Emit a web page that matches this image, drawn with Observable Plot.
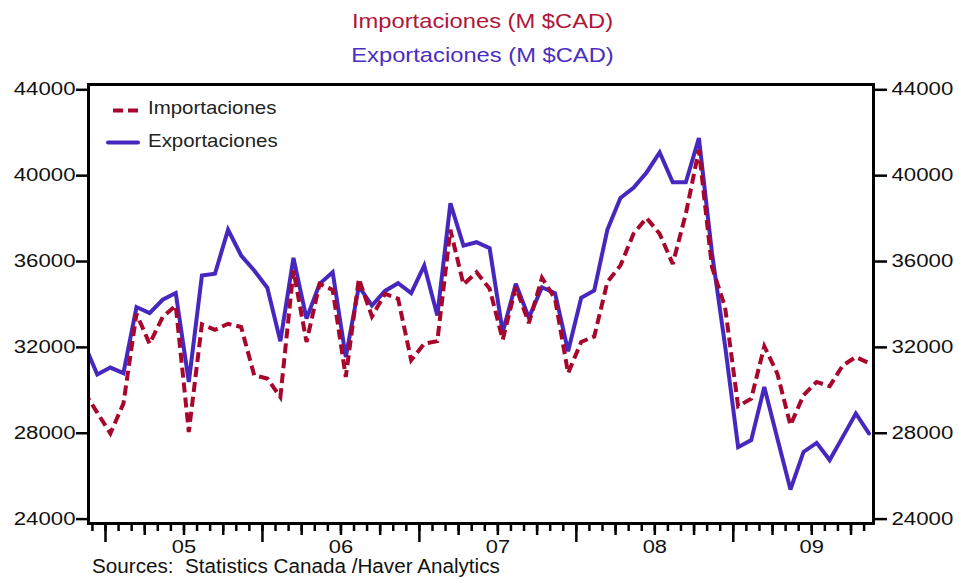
<!DOCTYPE html>
<html>
<head>
<meta charset="utf-8">
<script src="https://cdn.jsdelivr.net/npm/d3@7"></script>
<script src="https://cdn.jsdelivr.net/npm/@observablehq/plot@0.6"></script>
<style>
  html, body { margin: 0; padding: 0; background: #fff; }
  #wrap { position: relative; width: 959px; height: 580px; overflow: hidden;
          font-family: "Liberation Sans", Arial, sans-serif; }
  #wrap svg { position: absolute; left: 0; top: 0; }
  .title { position: absolute; left: 3px; width: 959px; text-align: center;
           font-size: 21px; line-height: 21px; white-space: pre;
           transform: scaleX(1.13); transform-origin: 50% 50%; }
  .legtext { position: absolute; left: 148px; font-size: 18.6px; line-height: 18.6px;
             color: #222; white-space: pre; transform: scaleX(1.1); transform-origin: 0 50%; }
  .caption { position: absolute; left: 92px; top: 557px; font-size: 19.5px; line-height: 19.5px;
             color: #111; white-space: pre; transform: scaleX(1.06); transform-origin: 0 50%; }
</style>
</head>
<body>
<div id="wrap"></div>
<script>
// ---- data (millions CAD, monthly) ----
const months = [
  "2004-11","2004-12",
  "2005-01","2005-02","2005-03","2005-04","2005-05","2005-06","2005-07","2005-08","2005-09","2005-10","2005-11","2005-12",
  "2006-01","2006-02","2006-03","2006-04","2006-05","2006-06","2006-07","2006-08","2006-09","2006-10","2006-11","2006-12",
  "2007-01","2007-02","2007-03","2007-04","2007-05","2007-06","2007-07","2007-08","2007-09","2007-10","2007-11","2007-12",
  "2008-01","2008-02","2008-03","2008-04","2008-05","2008-06","2008-07","2008-08","2008-09","2008-10","2008-11","2008-12",
  "2009-01","2009-02","2009-03","2009-04","2009-05","2009-06","2009-07","2009-08","2009-09","2009-10","2009-11"
];
const importaciones = [
  29930, 28960,
  27990, 29380, 33570, 32170, 33410, 33950, 28060, 33070, 32820, 33100, 32950, 30700,
  30550, 29690, 35580, 32250, 34960, 34680, 30620, 35200, 33440, 34500, 34270, 31400,
  32170, 32290, 37480, 34930, 35500, 34730, 32360, 34800, 33130, 35240, 34270, 30800,
  32250, 32510, 35040, 35810, 37290, 38030, 37290, 35890, 38220, 41200, 35740, 33880,
  29260, 29610, 32050, 30780, 28370, 29770, 30390, 30190, 31160, 31550, 31270
];
const exportaciones = [
  32170, 30740,
  31060, 30800, 33880, 33600, 34220, 34530, 30390, 35350, 35430, 37480, 36280, 35580,
  34780, 32290, 36170, 33340, 34960, 35500, 31550, 34840, 33950, 34630, 34990, 34530,
  35810, 33490, 38710, 36740, 36900, 36620, 32710, 34960, 33380, 34800, 34530, 31820,
  34310, 34650, 37480, 38960, 39430, 40150, 41080, 39690, 39690, 41750, 36400, 32090,
  27350, 27680, 30150, 27750, 25380, 27130, 27550, 26750, 27830, 28920, 27990
];
const yTickValues = [24000, 28000, 32000, 36000, 40000, 44000];
const yearLabels = ["05", "06", "07", "08", "09"];
const seriesNames = ["Importaciones", "Exportaciones"];
const titles = ["Importaciones (M $CAD)", "Exportaciones (M $CAD)"];
const caption = "Sources:  Statistics Canada /Haver Analytics";

// ---- styles ----
const RED = "#a8062c";
const BLUE = "#4628be";
const FONT = "Liberation Sans, Arial, sans-serif";

// month index relative to Jan 2005 (0 = start of Jan 2005)
const monthIndex = s => { const [y, m] = s.split("-").map(Number); return (y - 2005) * 12 + (m - 1); };
const rows = months.map((m, i) => ({t: monthIndex(m) + 0.37, imp: importaciones[i], exp: exportaciones[i]}));

const monthTicks = d3.range(-1, 59);
const mod12 = t => ((t % 12) + 12) % 12;
const quarterTicks = monthTicks.filter(t => mod12(t) % 3 === 0 && mod12(t) !== 0);
const yearTicks = yearLabels.map((_, i) => i * 12);
const labelTicks = yearLabels.map((_, i) => i * 12 + 6);

const axisCommon = {label: null, stroke: "#000", strokeWidth: 2.5};

const chart = Plot.plot({
  width: 959,
  height: 580,
  marginLeft: 88,
  marginRight: 86,
  marginTop: 84,
  marginBottom: 57,
  x: {type: "linear", domain: [-1.3, 58.72]},
  y: {domain: [23795, 44247]},
  style: {fontFamily: FONT, fontSize: "17.5px", color: "#111", background: "white", overflow: "visible"},
  marks: [
    Plot.axisY({...axisCommon, anchor: "left", ticks: yTickValues, tickSize: 12, tickPadding: 1, tickFormat: d => String(d), fill: "#111"}),
    Plot.axisY({...axisCommon, anchor: "right", ticks: yTickValues, tickSize: 13, tickPadding: 5, tickFormat: d => String(d), fill: "#111"}),
    Plot.axisX({...axisCommon, anchor: "bottom", ticks: monthTicks, tickSize: 8, tickFormat: () => ""}),
    Plot.axisX({...axisCommon, anchor: "bottom", ticks: quarterTicks, tickSize: 12, tickFormat: () => ""}),
    Plot.axisX({...axisCommon, anchor: "bottom", ticks: yearTicks, tickSize: 19, tickFormat: () => ""}),
    Plot.axisX({label: null, anchor: "bottom", ticks: labelTicks, tickSize: 0, tickPadding: 17,
                tickFormat: (d) => yearLabels[Math.round((d - 6) / 12)], fill: "#111"}),
    Plot.lineY(rows, {x: "t", y: "exp", stroke: BLUE, strokeWidth: 4, clip: true,
                      strokeLinejoin: "miter", strokeMiterlimit: 3}),
    Plot.lineY(rows, {x: "t", y: "imp", stroke: RED, strokeWidth: 4, strokeDasharray: "10,5", clip: true,
                      strokeLinejoin: "miter", strokeMiterlimit: 3, strokeLinecap: "butt"}),
    Plot.frame({stroke: "#000", strokeWidth: 3})
  ]
});

const wrap = document.getElementById("wrap");
wrap.appendChild(chart);

// widen tick labels to match the reference's horizontally stretched type
function stretch(selector, s) {
  chart.querySelectorAll(selector).forEach(t => {
    if (!t.textContent) return;
    const w = t.getComputedTextLength();
    if (w > 0) {
      t.setAttribute("textLength", (w * s).toFixed(2));
      t.setAttribute("lengthAdjust", "spacingAndGlyphs");
    }
  });
}
stretch('g[aria-label="y-axis tick label"] text', 1.27);
stretch('g[aria-label="x-axis tick label"] text', 1.25);

// titles
const t1 = document.createElement("div");
t1.className = "title"; t1.style.top = "10px"; t1.style.color = "#b0163a"; t1.textContent = titles[0];
const t2 = document.createElement("div");
t2.className = "title"; t2.style.top = "44px"; t2.style.color = "#4a2fc0"; t2.textContent = titles[1];
wrap.appendChild(t1); wrap.appendChild(t2);

// legend (inside the frame, top-left)
const NS = "http://www.w3.org/2000/svg";
const leg = document.createElementNS(NS, "svg");
leg.setAttribute("width", 60); leg.setAttribute("height", 60);
leg.style.left = "100px"; leg.style.top = "100px";
const l1 = document.createElementNS(NS, "line");
l1.setAttribute("x1", 13); l1.setAttribute("x2", 38); l1.setAttribute("y1", 10.5); l1.setAttribute("y2", 10.5);
l1.setAttribute("stroke", RED); l1.setAttribute("stroke-width", 4); l1.setAttribute("stroke-dasharray", "10,5");
const l2 = document.createElementNS(NS, "line");
l2.setAttribute("x1", 8); l2.setAttribute("x2", 38); l2.setAttribute("y1", 42.5); l2.setAttribute("y2", 42.5);
l2.setAttribute("stroke", BLUE); l2.setAttribute("stroke-width", 4); l2.setAttribute("stroke-linecap", "round");
leg.appendChild(l1); leg.appendChild(l2);
wrap.appendChild(leg);
seriesNames.forEach((name, i) => {
  const d = document.createElement("div");
  d.className = "legtext";
  d.style.top = (i === 0 ? 98.5 : 132) + "px";
  d.textContent = name;
  wrap.appendChild(d);
});

// caption
const cap = document.createElement("div");
cap.className = "caption"; cap.textContent = caption;
wrap.appendChild(cap);
</script>
</body>
</html>
